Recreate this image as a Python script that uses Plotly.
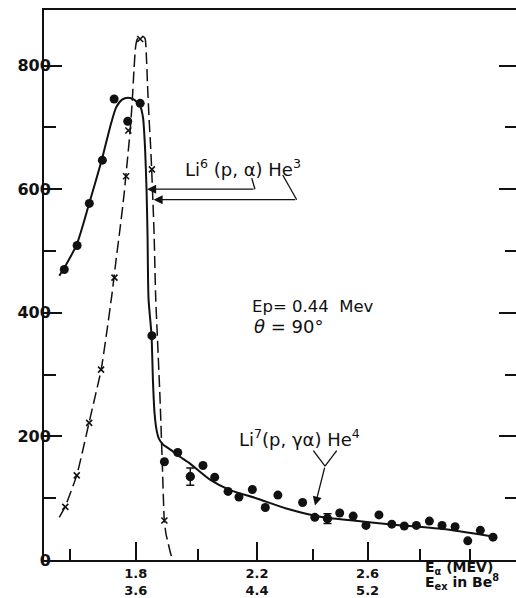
import numpy as np
import plotly.graph_objects as go

# ---- data (alpha energy in MeV, counts) ----
# measured points, filled circles
E_DOTS = [1.583, 1.621, 1.6575, 1.697, 1.733, 1.775, 1.814, 1.851, 1.891, 1.934,
          1.975, 2.017, 2.056, 2.101, 2.138, 2.184, 2.229, 2.273, 2.361, 2.405,
          2.451, 2.496, 2.546, 2.594, 2.643, 2.692, 2.740, 2.787, 2.838, 2.888,
          2.940, 2.991, 3.042, 3.094]
N_DOTS = [470, 509, 577, 647, 746, 710, 739, 363, 159, 174,
          135, 153, 134, 111, 102, 114, 85, 105, 93, 69,
          67, 76, 71, 56, 73, 58, 55, 56, 63, 56,
          54, 31, 48, 37]
ERR_DOTS = [0, 0, 0, 0, 0, 0, 0, 0, 0, 0,
            14, 0, 0, 0, 0, 0, 0, 0, 0, 0,
            8, 0, 0, 0, 0, 0, 0, 0, 0, 0,
            0, 0, 0, 0]

# measured points, crosses
E_CROSS = [1.586, 1.620, 1.657, 1.693, 1.734, 1.770, 1.777, 1.814, 1.851, 1.891]
N_CROSS = [86, 137, 222, 308, 457, 621, 695, 843, 632, 64]

# solid drawn curve
E_FIT = [1.5685, 1.5823, 1.6207, 1.6566, 1.6959, 1.7203, 1.7388, 1.7573, 1.7759, 1.7946,
         1.8135, 1.8229, 1.8292, 1.8340, 1.8371, 1.8403, 1.8498, 1.8546, 1.8594, 1.8657,
         1.8737, 1.8865, 1.9091, 1.9415, 1.9742, 2.0404, 2.1076, 2.1967, 2.3124, 2.4348,
         2.5640, 2.6813, 2.8918, 3.0787]
N_FIT = [460, 472, 512, 576, 649, 700, 732, 745, 748, 745,
         735, 716, 668, 600, 528, 423, 364, 287, 238, 211,
         196, 187, 179, 167, 156, 130, 113, 100, 82, 69,
         63, 58, 50, 39]

# dashed drawn curve
E_DASH = [1.5685, 1.5861, 1.6029, 1.6198, 1.6386, 1.6566, 1.6747, 1.6929, 1.7112, 1.7265,
          1.7388, 1.7511, 1.7635, 1.7728, 1.7821, 1.7884, 1.7946, 1.7993, 1.8040, 1.8135,
          1.8229, 1.8292, 1.8333, 1.8371, 1.8419, 1.8466, 1.8504, 1.8546, 1.8578, 1.8632,
          1.8673, 1.8769, 1.8843, 1.8907, 1.8962, 1.9036, 1.9107, 1.9178]
N_DASH = [69, 87, 111, 137, 179, 222, 264, 307, 372, 431,
          485, 536, 591, 641, 692, 737, 794, 829, 842, 847,
          847, 844, 818, 769, 716, 673, 631, 576, 531, 423,
          375, 262, 155, 64, 42, 26, 11, 0]

# axis ticks
X_MAJOR = [1.8, 2.2, 2.6]
X_MAJOR_TEXT = ["1.8<br>3.6", "2.2<br>4.4", "2.6<br>5.2"]
X_MINOR = [1.6, 2.0, 2.4, 2.8, 3.0]
Y_MAJOR = [0, 200, 400, 600, 800]
Y_MINOR = [100, 300, 500, 700]
E_RANGE = [1.524, 3.189]
Y_RANGE = [0, 890]

# the energy axis of the spectrometer is linear in momentum (sqrt E)
def X(e):
    return np.sqrt(np.asarray(e, dtype=float))

FONT = "DejaVu Sans"
BLACK = "#111111"

fig = go.Figure()

fig.add_trace(go.Scatter(x=X(E_DASH), y=N_DASH, mode="lines",
                         line=dict(color=BLACK, width=1.5, dash="12px,5px",
                                   shape="spline", smoothing=0.6),
                         hoverinfo="skip", showlegend=False))
fig.add_trace(go.Scatter(x=X(E_FIT), y=N_FIT, mode="lines",
                         line=dict(color=BLACK, width=2, shape="spline", smoothing=0.6),
                         hoverinfo="skip", showlegend=False))
fig.add_trace(go.Scatter(x=X(E_CROSS), y=N_CROSS, mode="markers",
                         marker=dict(symbol="x-thin", size=6,
                                     line=dict(color=BLACK, width=1.6)),
                         showlegend=False))
fig.add_trace(go.Scatter(x=X(E_DOTS), y=N_DOTS, mode="markers",
                         marker=dict(symbol="circle", size=9, color=BLACK),
                         showlegend=False))

err_idx = [i for i, v in enumerate(ERR_DOTS) if v > 0]
fig.add_trace(go.Scatter(x=X([E_DOTS[i] for i in err_idx]),
                         y=[N_DOTS[i] for i in err_idx], mode="markers",
                         marker=dict(symbol="circle", size=9, color=BLACK),
                         error_y=dict(type="data", array=[ERR_DOTS[i] for i in err_idx],
                                      color=BLACK, thickness=1.5, width=4),
                         showlegend=False))

# empty trace to carry the right-hand tick axis
fig.add_trace(go.Scatter(x=[], y=[], yaxis="y2", showlegend=False, hoverinfo="skip"))

# ---- annotations ----
ann = []
ann.append(dict(x=float(X(1.951)), y=634, xref="x", yref="y",
                text="Li<sup>6</sup> (p, α) He<sup>3</sup>", showarrow=False,
                xanchor="left", yanchor="middle",
                font=dict(family=FONT, size=18, color=BLACK)))
ann.append(dict(x=float(X(2.176)), y=410, xref="x", yref="y",
                text="Ep= 0.44  Mev", showarrow=False,
                xanchor="left", yanchor="middle",
                font=dict(family=FONT, size=16.5, color=BLACK)))
ann.append(dict(x=float(X(2.182)), y=378, xref="x", yref="y",
                text="<i>θ</i> = 90°", showarrow=False,
                xanchor="left", yanchor="middle",
                font=dict(family=FONT, size=18, color=BLACK)))
ann.append(dict(x=float(X(2.130)), y=197, xref="x", yref="y",
                text="Li<sup>7</sup>(p, γα) He<sup>4</sup>", showarrow=False,
                xanchor="left", yanchor="middle",
                font=dict(family=FONT, size=18, color=BLACK)))

# arrows of the labels
arrow_defs = [
    # tip (E, N), tail (E, N)
    ((1.8355, 600), (2.1932, 600)),
    ((1.8562, 583), (2.3399, 583)),
    ((2.4057, 88), (2.4421, 152)),
]
for (te, tn), (ae, an) in arrow_defs:
    ann.append(dict(x=float(X(te)), y=tn, ax=float(X(ae)), ay=an,
                    xref="x", yref="y", axref="x", ayref="y", text="",
                    showarrow=True, arrowhead=2, arrowsize=1.4, arrowwidth=1.3,
                    arrowcolor=BLACK, standoff=0))

# label leader kinks
leaders = [
    ((2.1932, 600), (2.1819, 618)),
    ((2.3399, 583), (2.2901, 623)),
    ((2.4421, 152), (2.3996, 177)),
    ((2.4421, 152), (2.4850, 177)),
]
shapes = []
for (e0, n0), (e1, n1) in leaders:
    shapes.append(dict(type="line", xref="x", yref="y",
                       x0=float(X(e0)), y0=n0, x1=float(X(e1)), y1=n1,
                       line=dict(color=BLACK, width=1.3)))

# axis title at lower right
ann.append(dict(x=0.803, y=-0.0145, xref="paper", yref="paper",
                text="E<sub>α</sub> (MEV)", showarrow=False,
                xanchor="left", yanchor="middle",
                font=dict(family=FONT, size=14, color=BLACK, weight="bold")))
ann.append(dict(x=0.803, y=-0.040, xref="paper", yref="paper",
                text="E<sub>ex</sub> in Be<sup>8</sup>", showarrow=False,
                xanchor="left", yanchor="middle",
                font=dict(family=FONT, size=14, color=BLACK, weight="bold")))

fig.update_layout(
    width=516, height=598,
    margin=dict(l=44, r=0, t=10, b=35),
    paper_bgcolor="white", plot_bgcolor="white",
    showlegend=False,
    annotations=ann, shapes=shapes,
    xaxis=dict(range=[float(X(E_RANGE[0])), float(X(E_RANGE[1]))],
               showgrid=False, zeroline=False,
               showline=True, linecolor=BLACK, linewidth=2, mirror=True,
               tickmode="array", tickvals=X(X_MAJOR).tolist(), ticktext=X_MAJOR_TEXT,
               ticks="inside", ticklen=18, tickwidth=1.8, tickcolor=BLACK,
               tickfont=dict(family=FONT, size=13, color=BLACK, weight="bold"),
               minor=dict(tickmode="array", tickvals=X(X_MINOR).tolist(),
                          ticks="inside", ticklen=11, tickwidth=1.8, tickcolor=BLACK,
                          showgrid=False)),
    yaxis=dict(range=Y_RANGE, showgrid=False, zeroline=False,
               showline=True, linecolor=BLACK, linewidth=2, mirror=False,
               tickmode="array", tickvals=Y_MAJOR, ticktext=[str(v) for v in Y_MAJOR],
               ticks="inside", ticklen=18, tickwidth=1.8, tickcolor=BLACK,
               ticklabelstandoff=-12,
               tickfont=dict(family=FONT, size=16, color=BLACK, weight="bold"),
               minor=dict(tickmode="array", tickvals=Y_MINOR, ticks="inside",
                          ticklen=12, tickwidth=1.8, tickcolor=BLACK, showgrid=False)),
    yaxis2=dict(range=Y_RANGE, overlaying="y", side="right", anchor="x",
                showgrid=False, zeroline=False, showline=False,
                showticklabels=False,
                tickmode="array", tickvals=Y_MAJOR[1:],
                ticks="inside", ticklen=17, tickwidth=1.8, tickcolor=BLACK,
                minor=dict(tickmode="array", tickvals=Y_MINOR, ticks="inside",
                           ticklen=11, tickwidth=1.8, tickcolor=BLACK, showgrid=False)),
)

fig.write_html("out.html",
               config={"displayModeBar": False},
               post_script="document.body.style.margin='0';"
                           "document.body.style.overflow='hidden';")
